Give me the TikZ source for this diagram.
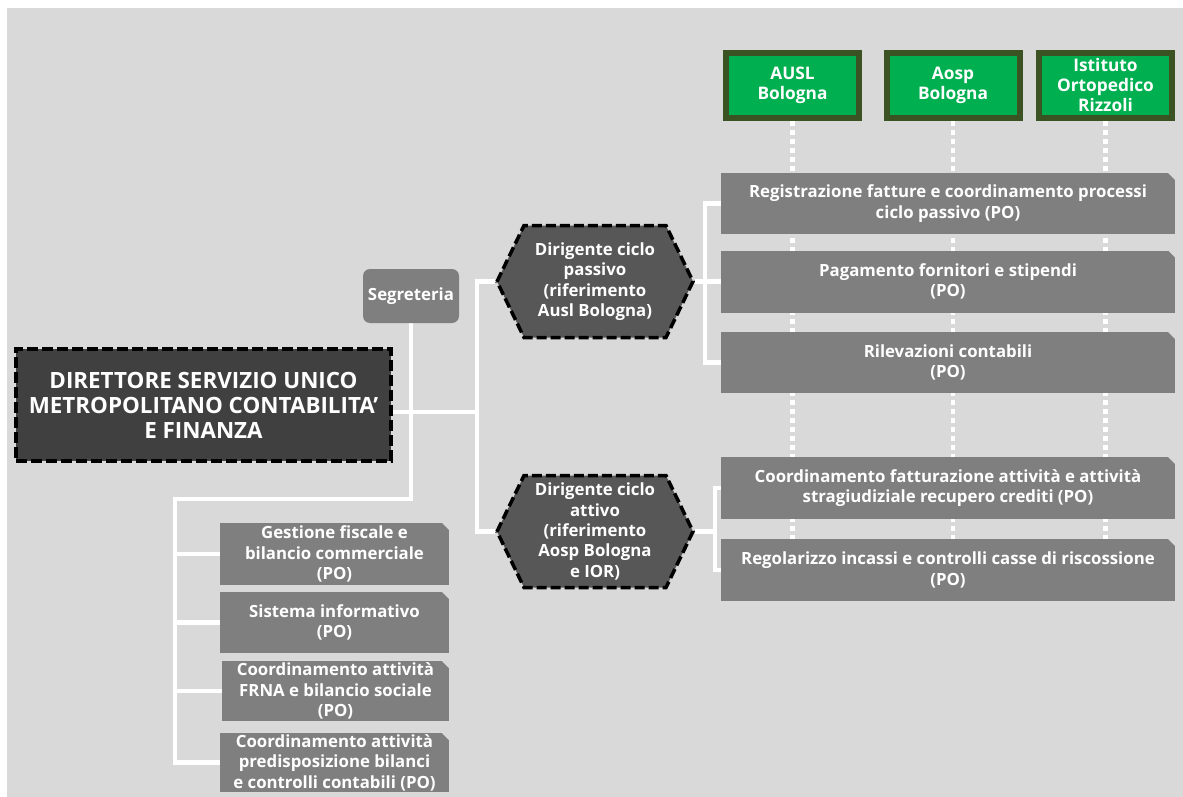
\documentclass[tikz,border=0pt]{standalone}
\usepackage{fontspec}
\setmainfont{Open Sans}
\usetikzlibrary{calc}
\pgfdeclarelayer{backdrop}
\pgfdeclarelayer{wires}
\pgfsetlayers{backdrop,wires,main}
\definecolor{canvas}{HTML}{D9D9D9}
\definecolor{chief}{HTML}{404040}
\definecolor{hexfill}{HTML}{575757}
\definecolor{unit}{HTML}{7F7F7F}
\definecolor{entgreen}{HTML}{00B050}
\definecolor{entedge}{HTML}{3B5323}
% hexagon outline around a centre coordinate
\newcommand\hexat[1]{%
  \filldraw[hexshape] ($(#1)+(-98,0)$) -- ($(#1)+(-71,-56)$) -- ($(#1)+(71,-56)$)
    -- ($(#1)+(98,0)$) -- ($(#1)+(71,56)$) -- ($(#1)+(-71,56)$) -- cycle;}
\tikzset{
  wire/.style={white, line width=4.5pt},
  dotwire/.style={white, line width=4.5pt, dash pattern=on 5pt off 4pt},
  chiefbox/.style={rectangle, fill=chief, draw=black, line width=4pt,
    dash pattern=on 11pt off 4pt, text=white, align=center,
    font=\fontsize{22.4}{25}\selectfont\bfseries,
    minimum width=375pt, minimum height=112pt, inner sep=0pt},
  secbox/.style={rectangle, rounded corners=7pt, fill=unit, text=white,
    font=\fontsize{16.8}{20}\selectfont\bfseries,
    minimum width=96pt, minimum height=54pt, inner sep=0pt},
  hexshape/.style={fill=hexfill, draw=black, line width=3.5pt,
    dash pattern=on 10pt off 4pt},
  hextext/.style={rectangle, text=white, align=center,
    font=\fontsize{16.8}{20.3}\selectfont\bfseries,
    minimum width=200pt, minimum height=116pt, inner sep=0pt},
  entbox/.style={rectangle, fill=entgreen, draw=entedge, line width=6pt,
    text=white, align=center, font=\fontsize{17.3}{20}\selectfont\bfseries,
    minimum width=133pt, minimum height=65pt, inner sep=0pt},
  unitbox/.style={rectangle, fill=unit, text=white, align=center,
    font=\fontsize{16.8}{20.5}\selectfont\bfseries, inner sep=0pt,
    path picture={\fill[canvas] (path picture bounding box.north east)
      -- ++(-7pt,0pt) -- ++(7pt,-7pt) -- cycle;}},
}
\begin{document}
\begin{tikzpicture}[x=1pt,y=-1pt]
\useasboundingbox (0,0) rectangle (1183,797);
\begin{pgfonlayer}{backdrop}
  \fill[white] (0,0) rectangle (1183,797);
  \fill[canvas] (7,8) rectangle (1183,797);
\end{pgfonlayer}

% director and secretariat
\node[chiefbox] (dir) at (203.5,405) {DIRETTORE SERVIZIO UNICO\\METROPOLITANO CONTABILITA’\\E FINANZA};
\node[secbox] (seg) at (411,296) {Segreteria};

% the two managers
\coordinate (h1c) at (595,281.5);
\coordinate (h2c) at (595,531.5);
\hexat{h1c}
\node[hextext] (H1) at (h1c) {Dirigente ciclo\\passivo\\(riferimento\\Ausl Bologna)};
\hexat{h2c}
\node[hextext] (H2) at (h2c) {Dirigente ciclo\\attivo\\(riferimento\\Aosp Bologna\\e IOR)};

% the three companies
\node[entbox] (G1) at (792.5,85.5) {AUSL\\Bologna};
\node[entbox] (G2) at (953,85.5) {Aosp\\Bologna};
\node[entbox] (G3) at (1105.5,85.5) {Istituto\\Ortopedico\\Rizzoli};

% units under the passive cycle
\node[unitbox, minimum width=454pt, minimum height=61pt] (RA) at (948,203.5)
  {Registrazione fatture e coordinamento processi\\ciclo passivo (PO)};
\node[unitbox, minimum width=454pt, minimum height=62pt] (RB) at (948,281.5)
  {Pagamento fornitori e stipendi\\(PO)};
\node[unitbox, minimum width=454pt, minimum height=61pt] (RC) at (948,362.5)
  {Rilevazioni contabili\\(PO)};
% units under the active cycle
\node[unitbox, minimum width=454pt, minimum height=62pt] (RD) at (948,488)
  {Coordinamento fatturazione attività e attività\\stragiudiziale recupero crediti (PO)};
\node[unitbox, minimum width=454pt, minimum height=62pt] (RE) at (948,570)
  {Regolarizzo incassi e controlli casse di riscossione\\(PO)};

% staff units under the director
\node[unitbox, minimum width=229pt, minimum height=62pt] (L1) at (334.5,554)
  {Gestione fiscale e\\bilancio commerciale\\(PO)};
\node[unitbox, minimum width=229pt, minimum height=61pt] (L2) at (334.5,622.5)
  {Sistema informativo\\(PO)};
\node[unitbox, minimum width=227pt, minimum height=60pt] (L3) at (335.5,691)
  {Coordinamento attività\\FRNA e bilancio sociale\\(PO)};
\node[unitbox, minimum width=229pt, minimum height=59pt] (L4) at (334.5,762.5)
  {Coordinamento attività\\predisposizione bilanci\\e controlli contabili (PO)};

% connectors
\coordinate (jmain) at (477,412);
\coordinate (lt) at (175,499);
\coordinate (pj) at (705,281.5);
\coordinate (aj) at (715,531.5);
\begin{pgfonlayer}{wires}
  \draw[wire] (jmain -| dir.east) -- (jmain);
  \draw[wire] (H1.west) -| (jmain) |- (H2.west);
  \draw[wire] (seg.south) |- (lt) |- (L4.west);
  \draw[wire] (lt |- L1.west) -- (L1.west);
  \draw[wire] (lt |- L2.west) -- (L2.west);
  \draw[wire] (lt |- L3.west) -- (L3.west);
  \draw[wire] (RA.west) -| (pj) |- (RC.west);
  \draw[wire] (H1.east) -- (RB.west);
  \draw[wire] (RD.west) -| (aj) |- (RE.west);
  \draw[wire] (H2.east) -- (aj);
  \draw[dotwire] (G1.south) -- (G1.south |- RE.center);
  \draw[dotwire] (G2.south) -- (G2.south |- RE.center);
  \draw[dotwire] (G3.south) -- (G3.south |- RE.center);
\end{pgfonlayer}
\end{tikzpicture}
\end{document}
